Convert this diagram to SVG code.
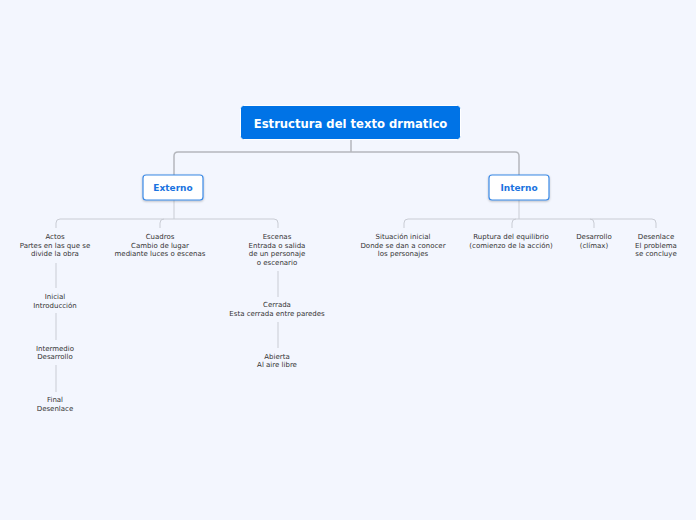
<svg xmlns="http://www.w3.org/2000/svg" width="696" height="520" viewBox="0 0 696 520">
<defs>
<filter id="sh" x="-20%" y="-20%" width="140%" height="160%">
<feDropShadow dx="0" dy="1" stdDeviation="0.8" flood-color="#000" flood-opacity="0.25"/>
</filter>
</defs>
<style>
.t{font-family:"DejaVu Sans","Verdana",sans-serif;font-size:7px;fill:#333;text-anchor:middle}
.c1{fill:none;stroke:#b5b7bd;stroke-width:1.5}
.c2{fill:none;stroke:#c9ccd4;stroke-width:1}
.sub{fill:#fff;stroke:#3b8ae6;stroke-width:1.2}
.st{font-family:"DejaVu Sans","Verdana",sans-serif;font-size:9px;font-weight:bold;fill:#1a73e0;text-anchor:middle}
</style>
<rect width="696" height="520" fill="#f3f6fe"/>
<g id="connectors">
<path class="c1" d="M351 140V152M174 175V156Q174 152 178 152H515Q519 152 519 156V175"/>
<path class="c2" d="M174 200V219M56 228V223Q56 219 60 219H274Q278 219 278 223V228M160 228V223Q160 219 164 219"/>
<path class="c2" d="M519 200V219M404 228V223Q404 219 408 219H652Q656 219 656 223V228M512 228V223Q512 219 516 219M594 228V223Q594 219 590 219"/>
<path class="c2" d="M56 263V288M56 313V340M56 365V392M278 271V297M278 322V348"/>
</g>
<g id="root">
<rect x="240.5" y="105.5" width="220" height="34" rx="3" fill="#0073e6" stroke="#fff" stroke-width="1"/>
<text x="350.5" y="128" font-family="DejaVu Sans,Verdana,sans-serif" font-size="11.6" font-weight="bold" fill="#fff" text-anchor="middle">Estructura del texto drmatico</text>
</g>
<g id="externo">
<rect class="sub" x="143" y="175" width="60" height="25" rx="3" filter="url(#sh)"/>
<text class="st" x="173" y="191">Externo</text>
</g>
<g id="interno">
<rect class="sub" x="489" y="175" width="60" height="25" rx="3" filter="url(#sh)"/>
<text class="st" x="519" y="191">Interno</text>
</g>
<g id="actos"><text class="t" x="55" y="239">Actos</text><text class="t" x="55" y="247.5">Partes en las que se</text><text class="t" x="55" y="256">divide la obra</text></g>
<g id="cuadros"><text class="t" x="160" y="239">Cuadros</text><text class="t" x="160" y="247.5">Cambio de lugar</text><text class="t" x="160" y="256">mediante luces o escenas</text></g>
<g id="escenas"><text class="t" x="277" y="239">Escenas</text><text class="t" x="277" y="247.5">Entrada o salida</text><text class="t" x="277" y="256">de un personaje</text><text class="t" x="277" y="264.5">o escenario</text></g>
<g id="inicial"><text class="t" x="55" y="299">Inicial</text><text class="t" x="55" y="307.5">Introducción</text></g>
<g id="intermedio"><text class="t" x="55" y="350.5">Intermedio</text><text class="t" x="55" y="359">Desarrollo</text></g>
<g id="final"><text class="t" x="55" y="402">Final</text><text class="t" x="55" y="410.5">Desenlace</text></g>
<g id="cerrada"><text class="t" x="277" y="307">Cerrada</text><text class="t" x="277" y="316">Esta cerrada entre paredes</text></g>
<g id="abierta"><text class="t" x="277" y="358.5">Abierta</text><text class="t" x="277" y="367">Al aire libre</text></g>
<g id="situacion"><text class="t" x="403" y="239">Situación inicial</text><text class="t" x="403" y="247.5">Donde se dan a conocer</text><text class="t" x="403" y="256">los personajes</text></g>
<g id="ruptura"><text class="t" x="511" y="239">Ruptura del equilibrio</text><text class="t" x="511" y="247.5">(comienzo de la acción)</text></g>
<g id="desarrollo"><text class="t" x="594" y="239">Desarrollo</text><text class="t" x="594" y="247.5">(clímax)</text></g>
<g id="desenlace"><text class="t" x="656" y="239">Desenlace</text><text class="t" x="656" y="247.5">El problema</text><text class="t" x="656" y="256">se concluye</text></g>
</svg>
